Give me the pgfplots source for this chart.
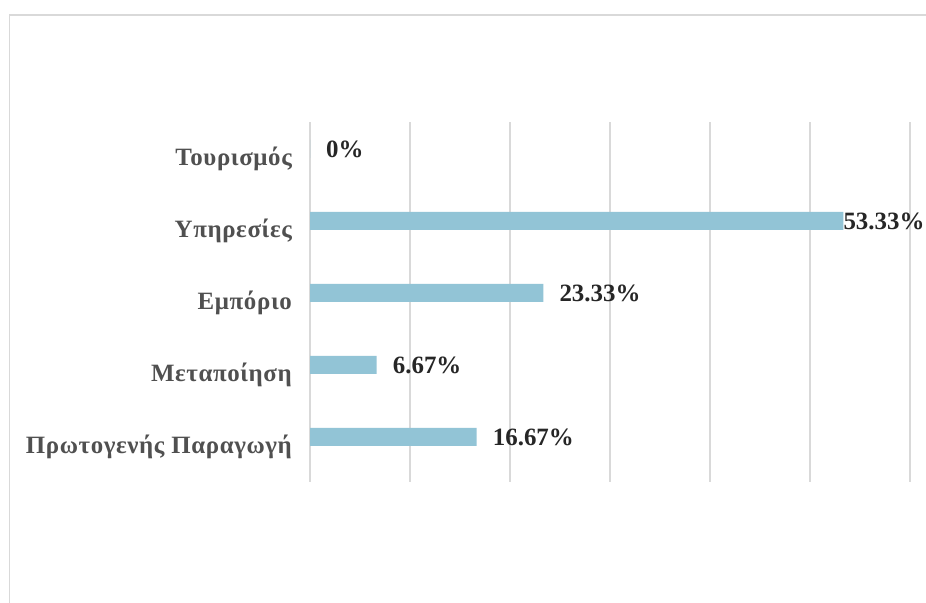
\documentclass[border=0pt]{standalone}
\usepackage{fontspec}
\setmainfont{Liberation Serif}
\newfontfamily\catfont[LetterSpace=2.5]{Liberation Serif}
\usepackage{pgfplots}
\pgfplotsset{compat=1.18}
\definecolor{gridgray}{RGB}{217,217,217}
\definecolor{barblue}{RGB}{146,196,214}
\definecolor{catgray}{RGB}{80,80,80}
\definecolor{valgray}{RGB}{38,38,38}
\begin{document}
\begin{tikzpicture}[x=1bp,y=1bp]
\useasboundingbox[fill=white] (0,0) rectangle (926,603);
\draw[gridgray, line width=1.5bp] (9.5,0) -- (9.5,588) -- (926,588);
\begin{axis}[
  at={(310bp,121bp)}, anchor=south west,
  scale only axis, width=600bp, height=360bp,
  xmin=0, xmax=60, ymin=-0.5, ymax=4.5,
  xtick={0,10,...,60}, xticklabels={},
  ytick={0,1,2,3,4},
  yticklabels={Πρωτογενής Παραγωγή, Μεταποίηση, Εμπόριο, Υπηρεσίες, Τουρισμός},
  yticklabel style={font=\catfont\fontsize{25}{30}\selectfont\bfseries, text=catgray, inner sep=0pt, anchor=east, xshift=-18bp, yshift=-1bp},
  xmajorgrids, grid style={gridgray, line width=1.5bp},
  axis line style={draw=none}, major tick length=0pt,
  xbar, bar width=18bp, bar shift=9bp,
  point meta=explicit symbolic,
  nodes near coords={\pgfplotspointmeta},
  every node near coord/.append style={font=\fontsize{25}{30}\selectfont\bfseries, text=valgray, anchor=west, inner sep=0pt, xshift=16bp},
  clip=false,
]
\addplot[fill=barblue, draw=none] coordinates {
  (16.67,0) [16.67\%]
  (6.67,1) [6.67\%]
  (23.33,2) [23.33\%]
  (53.33,3) []
  (0,4) [0\%]
};
\addplot[fill=none, draw=none, every node near coord/.append style={xshift=-16bp}] coordinates {
  (53.33,3) [53.33\%]
};
\end{axis}
\end{tikzpicture}
\end{document}
